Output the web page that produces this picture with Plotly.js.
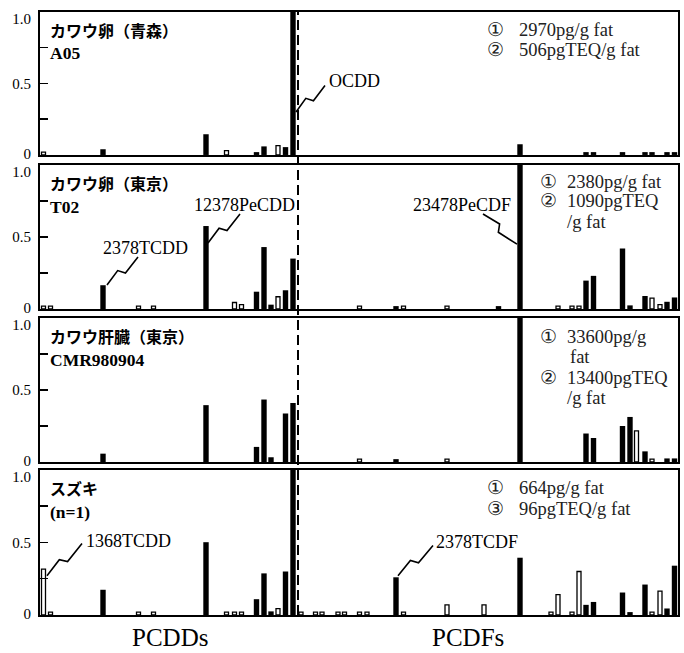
<!DOCTYPE html>
<html><head><meta charset="utf-8">
<script src="https://cdn.plot.ly/plotly-3.0.1.min.js"></script>
<style>html,body{margin:0;padding:0;background:#fff}#chart{width:684px;height:653px}</style>
</head><body><div id="chart"></div>
<script>
const _ = null;
// elution positions of the congener peaks along the horizontal axis
const pcddPositions = [3.5,10.5,63,98.5,113.5,166,186.5,194.5,201.5,216.5,224,231,238,245.5,253];
const pcdfPositions = [261,275.5,282,298,304.5,319.5,327,356,363.5,407,444,458.5,480,511,518,532,539,546,553.5,582.5,590,596.5,605,612,620,627,634.5];

// relative abundance (max = 1) — solid bars and open bars
const a05PcddSolid = [_,_,0.04,_,_,0.145,_,_,_,0.02,0.06,_,_,0.055,1.0];
const a05PcddOpen  = [0.02,_,_,_,_,_,0.03,_,_,_,_,_,0.065,_,_];
const a05PcdfSolid = [_,_,_,_,_,_,_,_,_,_,_,_,0.075,_,_,_,_,0.02,0.02,0.02,_,_,0.02,0.02,_,0.02,0.02];
const a05PcdfOpen  = [_,_,_,_,_,_,_,_,_,_,_,_,_,_,_,_,_,_,_,_,_,_,_,_,_,_,_];

const t02PcddSolid = [_,_,0.165,_,_,0.576,_,_,_,0.12,0.43,0.03,_,0.13,0.35];
const t02PcddOpen  = [0.02,0.02,_,0.02,0.02,_,_,0.045,0.03,_,_,_,0.085,_,_];
const t02PcdfSolid = [_,_,_,_,_,_,_,0.02,_,_,_,0.02,1.0,_,_,_,_,0.197,0.23,0.42,0.025,_,0.09,_,_,0.05,0.08];
const t02PcdfOpen  = [_,_,_,_,_,0.02,_,_,0.02,0.02,_,_,_,_,0.02,0.02,0.02,_,_,_,_,_,_,0.075,0.03,_,_];

const cmrPcddSolid = [_,_,0.058,_,_,0.395,_,_,_,0.105,0.434,0.033,_,0.337,0.41];
const cmrPcddOpen  = [_,_,_,_,_,_,_,_,_,_,_,_,_,_,_];
const cmrPcdfSolid = [_,_,_,_,_,_,_,0.02,_,_,_,_,1.0,_,_,_,_,0.198,0.167,0.25,0.313,_,0.074,_,_,0.025,0.025];
const cmrPcdfOpen  = [_,_,_,_,_,0.02,_,_,_,0.02,_,_,_,_,_,_,_,_,_,_,_,0.216,_,0.02,_,_,_];

const suzPcddSolid = [_,_,0.174,_,_,0.502,_,_,_,0.109,0.287,0.025,_,0.3,1.0];
const suzPcddOpen  = [0.317,0.02,_,0.02,0.02,_,0.02,0.02,0.02,_,_,_,0.044,_,_];
const suzPcdfSolid = [_,_,_,_,_,_,_,0.26,_,_,_,_,0.395,_,_,_,_,0.07,0.09,0.155,0.02,_,0.21,_,_,0.045,0.34];
const suzPcdfOpen  = [0.02,0.02,0.02,0.02,0.02,0.02,0.02,_,0.02,0.07,0.07,_,_,0.02,0.14,0.02,0.30,_,_,_,_,_,_,0.02,0.165,_,_];

const sampleTitles = ['カワウ卵（青森）','カワウ卵（東京）','カワウ肝臓（東京）','スズキ'];
const sampleIds = ['A05','T02','CMR980904','(n=1)'];
const yLabelVals = [0.012,0.5,0.955];
const yLabelText = ['0','0.5','1.0'];
const yMinorTicks = [0.25,0.5,0.75];
const groupLabels = ['PCDDs','PCDFs'];

const panels = [
  {solid:a05PcddSolid.concat(a05PcdfSolid), open:a05PcddOpen.concat(a05PcdfOpen)},
  {solid:t02PcddSolid.concat(t02PcdfSolid), open:t02PcddOpen.concat(t02PcdfOpen)},
  {solid:cmrPcddSolid.concat(cmrPcdfSolid), open:cmrPcddOpen.concat(cmrPcdfOpen)},
  {solid:suzPcddSolid.concat(suzPcdfSolid), open:suzPcddOpen.concat(suzPcdfOpen)}
];
const allPos = pcddPositions.concat(pcdfPositions);

const serif = 'Liberation Serif';
const gothic = 'Noto Sans CJK JP';
const domains = [[0.7629,1.0],[0.5075,0.7463],[0.2537,0.4925],[0,0.2405]];
const panelPx = [143,144,144,145];

const data = [];
const layout = {
  width:684, height:653, margin:{l:40,r:6,t:12,b:38},
  paper_bgcolor:'white', plot_bgcolor:'white', showlegend:false,
  barmode:'overlay', annotations:[], shapes:[]
};

panels.forEach((p,i)=>{
  const s = i===0?'':String(i+1);
  const xa='x'+s, ya='y'+s;
  data.push({type:'bar', x:allPos, y:p.solid, xaxis:xa, yaxis:ya, width:5.4,
    marker:{color:'black', line:{width:0}}, hoverinfo:'skip'});
  data.push({type:'bar', x:allPos, y:p.open, xaxis:xa, yaxis:ya, width:4,
    marker:{color:'white', line:{color:'black', width:1.3}}, hoverinfo:'skip'});
  layout['xaxis'+s] = {anchor:ya, range:[0,638], showticklabels:false, ticks:'',
    showgrid:false, zeroline:false, showline:true, mirror:true, linecolor:'black', linewidth:2};
  layout['yaxis'+s] = {anchor:xa, domain:domains[i], range:[0,1],
    tickmode:'array', tickvals:yLabelVals, ticktext:yLabelText, ticks:'', ticklabelstandoff:4,
    minor:{tickmode:'array', tickvals:yMinorTicks, ticks:'inside', ticklen:8, tickwidth:1.5, tickcolor:'black', showgrid:false},
    showgrid:false, zeroline:false,
    showline:true, mirror:true, linecolor:'black', linewidth:2,
    tickfont:{family:serif, size:15, color:'black'}};
  layout.annotations.push({xref:xa+' domain', yref:ya+' domain', x:0.0125, y:0.877, xanchor:'left', yanchor:'middle',
    text:'<b>'+sampleTitles[i]+'</b>', showarrow:false, font:{family:gothic, size:16, color:'black'}});
  layout.annotations.push({xref:xa+' domain', yref:ya+' domain', x:0.0125, y:0.71, xanchor:'left', yanchor:'middle',
    text:'<b>'+sampleIds[i]+'</b>', showarrow:false, font:{family:serif, size:17.5, color:'black'}});
});

// totals text
function txt(panel, xd, yd, t){
  const s = panel===0?'':String(panel+1);
  layout.annotations.push({xref:'x'+s+' domain', yref:'y'+s+' domain', x:xd, y:yd, xanchor:'left', yanchor:'middle',
    text:t, showarrow:false, font:{family:serif, size:18.5, color:'#222'}});
}
txt(0,0.697,0.874,'①'); txt(0,0.747,0.874,'2970pg/g fat');
txt(0,0.697,0.734,'②'); txt(0,0.747,0.734,'506pgTEQ/g fat');
txt(1,0.781,0.882,'①'); txt(1,0.823,0.882,'2380pg/g fat');
txt(1,0.781,0.75,'②'); txt(1,0.823,0.75,'1090pgTEQ');
txt(1,0.823,0.604,'/g fat');
txt(2,0.781,0.868,'①'); txt(2,0.823,0.868,'33600pg/g');
txt(2,0.828,0.729,'fat');
txt(2,0.781,0.583,'②'); txt(2,0.823,0.583,'13400pgTEQ');
txt(2,0.823,0.444,'/g fat');
txt(3,0.697,0.876,'①'); txt(3,0.747,0.876,'664pg/g fat');
txt(3,0.697,0.731,'③'); txt(3,0.747,0.731,'96pgTEQ/g fat');

// callouts with zigzag leaders
function zigzag(panel, sPt, ePt){
  const s = panel===0?'':String(panel+1);
  const h = panelPx[panel];
  const sx=sPt[0], sy=sPt[1]*h, ex=ePt[0], ey=ePt[1]*h;
  const dx=ex-sx, dy=ey-sy, L=Math.hypot(dx,dy);
  const nx=-dy/L, ny=dx/L, w=3.5;
  const a=[sx+dx*0.42+nx*w, sy+dy*0.42+ny*w];
  const b=[sx+dx*0.52-nx*w, sy+dy*0.52-ny*w];
  const pts=[[sx,sy],a,b,[ex,ey]].map(q=>q[0].toFixed(2)+','+(q[1]/h).toFixed(4));
  layout.shapes.push({type:'path', xref:'x'+s, yref:'y'+s, path:'M'+pts.join('L'),
    line:{color:'black', width:1.6}});
}
function callout(panel, x, y, t, anchor){
  const s = panel===0?'':String(panel+1);
  layout.annotations.push({xref:'x'+s, yref:'y'+s, x:x, y:y, xanchor:anchor||'left', yanchor:'middle',
    text:t, showarrow:false, font:{family:serif, size:18, color:'black'}});
}
zigzag(0,[256,0.30],[285,0.486]); callout(0,287,0.52,'OCDD');
zigzag(1,[67,0.167],[98,0.361]); callout(1,61,0.424,'2378TCDD');
zigzag(1,[168,0.458],[200,0.66]); callout(1,152,0.722,'12378PeCDD');
zigzag(1,[443,0.66],[477,0.45]); callout(1,473,0.722,'23478PeCDF','right');
zigzag(3,[7,0.27],[42,0.493]); callout(3,44,0.507,'1368TCDD');
zigzag(3,[358,0.27],[393,0.479]); callout(3,394,0.5,'2378TCDF');

// PCDD / PCDF divider
layout.shapes.push({type:'line', xref:'x', yref:'paper', x0:258, x1:258, y0:0, y1:1,
  line:{color:'black', width:2, dash:'10px,5px'}});

// group labels
layout.annotations.push({xref:'x4', yref:'paper', x:130, y:-0.0365, xanchor:'center', yanchor:'middle',
  text:groupLabels[0], showarrow:false, font:{family:serif, size:25, color:'black'}});
layout.annotations.push({xref:'x4', yref:'paper', x:428, y:-0.0365, xanchor:'center', yanchor:'middle',
  text:groupLabels[1], showarrow:false, font:{family:serif, size:25, color:'black'}});

Plotly.newPlot('chart', data, layout, {staticPlot:true, displayModeBar:false});
</script>
</body></html>
